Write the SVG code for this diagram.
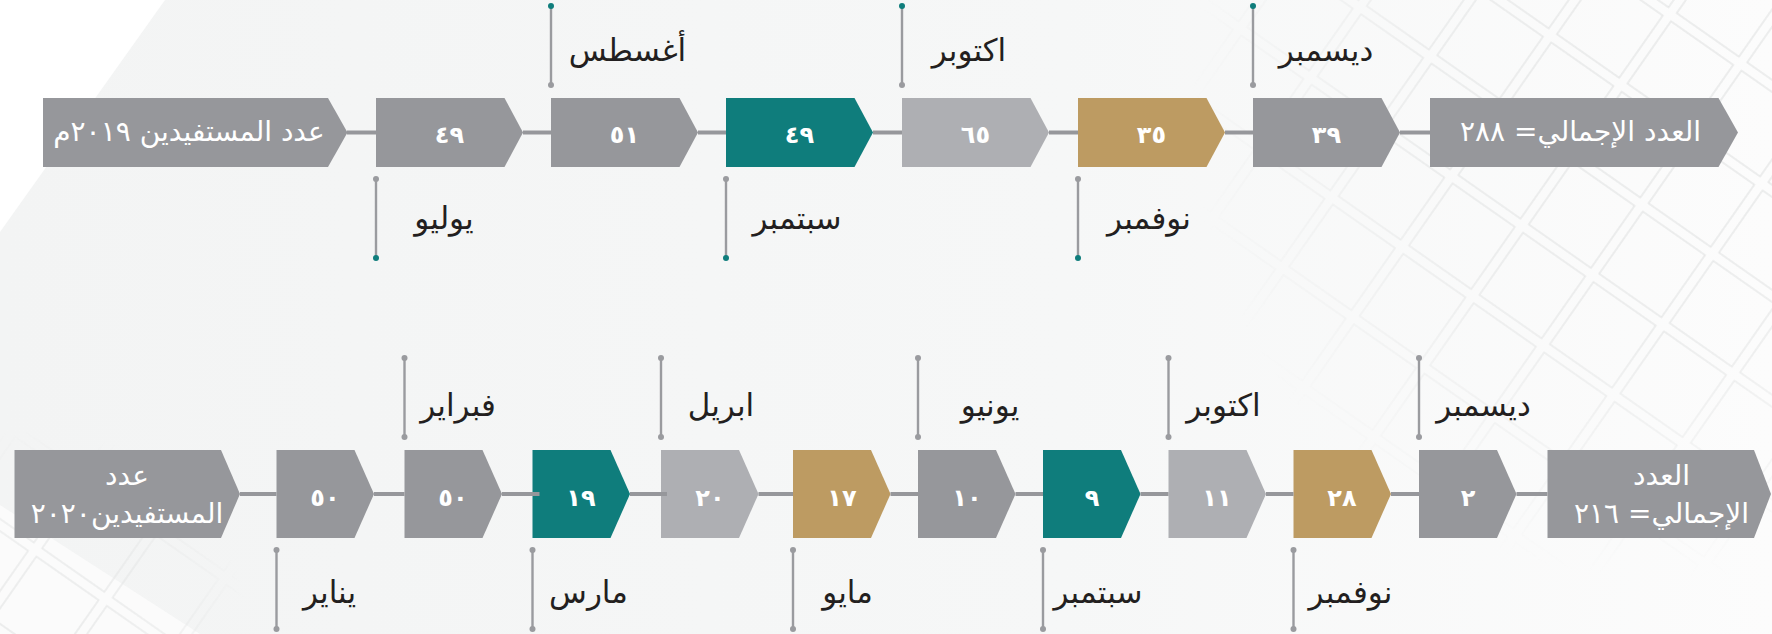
<svg xmlns="http://www.w3.org/2000/svg" width="1772" height="634" viewBox="0 0 1772 634">
<style>
.dk{fill:#96979b}.lt{fill:#aeafb3}.tl{fill:#0f7d7c}.gd{fill:#bd9b62}
.num{font-family:'DejaVu Sans',sans-serif;font-weight:bold;font-size:24px;fill:#fff;text-anchor:middle;direction:rtl}
.ttl{font-family:'DejaVu Sans',sans-serif;font-size:28px;fill:#fff;text-anchor:middle;direction:rtl}
.lbl{font-family:'DejaVu Sans',sans-serif;font-size:31px;fill:#231f20;text-anchor:middle;direction:rtl}
.lead{stroke:#9a9b9f;stroke-width:2.4}
.dg{fill:#9a9b9f}.dt{fill:#0f7d7c}
.con line{stroke:#96979b;stroke-width:4}
</style>
<defs>
<linearGradient id="bgg" x1="0" y1="0" x2="1" y2="0">
<stop offset="0" stop-color="#f3f4f4"/><stop offset="0.6" stop-color="#f6f7f7"/><stop offset="1" stop-color="#fcfcfc"/>
</linearGradient>
<pattern id="grid" width="86" height="86" patternUnits="userSpaceOnUse" patternTransform="rotate(35)">
<rect x="5" y="5" width="76" height="76" fill="none" stroke="#e2e3e3" stroke-width="1.3"/>
</pattern>
<radialGradient id="mg1" cx="1660" cy="110" r="470" gradientUnits="userSpaceOnUse">
<stop offset="0" stop-color="#fff"/><stop offset="0.5" stop-color="#fff" stop-opacity="0.85"/><stop offset="1" stop-color="#fff" stop-opacity="0"/>
</radialGradient>
<radialGradient id="mg2" cx="40" cy="640" r="210" gradientUnits="userSpaceOnUse">
<stop offset="0" stop-color="#fff"/><stop offset="0.6" stop-color="#fff" stop-opacity="0.7"/><stop offset="1" stop-color="#fff" stop-opacity="0"/>
</radialGradient>
<mask id="gm" maskUnits="userSpaceOnUse" x="0" y="0" width="1772" height="634">
<rect x="0" y="0" width="1772" height="634" fill="url(#mg1)"/>
<rect x="0" y="0" width="1772" height="634" fill="url(#mg2)"/>
</mask>
</defs>

<g id="background">
<rect x="0" y="0" width="1772" height="634" fill="url(#bgg)"/>
<polygon points="0,0 165,0 0,232" fill="#ffffff"/>
<polygon points="0,505 200,634 0,634" fill="#fbfbfb"/>
<rect x="0" y="0" width="1772" height="634" fill="url(#grid)" mask="url(#gm)"/>
</g>

<!-- Row 1 (2019) -->
<g id="title2019">
<polygon class="dk" points="43,98 328,98 347.5,132.5 328,167 43,167"/>
<text class="ttl" x="189" y="141">عدد المستفيدين ٢٠١٩م</text>
</g>
<g id="jul2019">
<polygon class="dk" points="376,98 504.5,98 523,132.5 504.5,167 376,167"/>
<text class="num" x="449.5" y="142.5">٤٩</text>
<line class="lead" x1="376" y1="179" x2="376" y2="258"/>
<circle class="dg" cx="376" cy="179" r="3"/><circle class="dt" cx="376" cy="258" r="3"/>
<text class="lbl" x="444" y="229">يوليو</text>
</g>
<g id="aug2019">
<polygon class="dk" points="551,98 679.5,98 698,132.5 679.5,167 551,167"/>
<text class="num" x="624.5" y="142.5">٥١</text>
<line class="lead" x1="551" y1="6" x2="551" y2="85"/>
<circle class="dt" cx="551" cy="6" r="3"/><circle class="dg" cx="551" cy="85" r="3"/>
<text class="lbl" x="627.5" y="61">أغسطس</text>
</g>
<g id="sep2019">
<polygon class="tl" points="726,98 854.5,98 873,132.5 854.5,167 726,167"/>
<text class="num" x="799.5" y="142.5">٤٩</text>
<line class="lead" x1="726" y1="179" x2="726" y2="258"/>
<circle class="dg" cx="726" cy="179" r="3"/><circle class="dt" cx="726" cy="258" r="3"/>
<text class="lbl" x="797" y="229">سبتمبر</text>
</g>
<g id="oct2019">
<polygon class="lt" points="902,98 1030.5,98 1049,132.5 1030.5,167 902,167"/>
<text class="num" x="975.5" y="142.5">٦٥</text>
<line class="lead" x1="902" y1="6" x2="902" y2="85"/>
<circle class="dt" cx="902" cy="6" r="3"/><circle class="dg" cx="902" cy="85" r="3"/>
<text class="lbl" x="969" y="61">اكتوبر</text>
</g>
<g id="nov2019">
<polygon class="gd" points="1078,98 1206.5,98 1225,132.5 1206.5,167 1078,167"/>
<text class="num" x="1151.5" y="142.5">٣٥</text>
<line class="lead" x1="1078" y1="179" x2="1078" y2="258"/>
<circle class="dg" cx="1078" cy="179" r="3"/><circle class="dt" cx="1078" cy="258" r="3"/>
<text class="lbl" x="1149" y="229">نوفمبر</text>
</g>
<g id="dec2019">
<polygon class="dk" points="1253,98 1381.5,98 1400,132.5 1381.5,167 1253,167"/>
<text class="num" x="1326.5" y="142.5">٣٩</text>
<line class="lead" x1="1253" y1="6" x2="1253" y2="85"/>
<circle class="dt" cx="1253" cy="6" r="3"/><circle class="dg" cx="1253" cy="85" r="3"/>
<text class="lbl" x="1326" y="61">ديسمبر</text>
</g>
<g id="total2019">
<polygon class="dk" points="1430,98 1718.5,98 1738,132.5 1718.5,167 1430,167"/>
<text class="ttl" x="1580.5" y="141">العدد الإجمالي= ٢٨٨</text>
</g>

<!-- Row 2 (2020) -->
<g id="title2020">
<polygon class="dk" points="14.5,450 221,450 240,494 221,538 14.5,538"/>
<text class="ttl" x="127" y="485">عدد</text>
<text class="ttl" x="127" y="523">المستفيدين٢٠٢٠</text>
</g>
<g id="jan2020">
<polygon class="dk" points="276.5,450 354.5,450 374,494 354.5,538 276.5,538"/>
<text class="num" x="325" y="506">٥٠</text>
<line class="lead" x1="276.5" y1="550" x2="276.5" y2="629"/>
<circle class="dg" cx="276.5" cy="550" r="3"/><circle class="dg" cx="276.5" cy="629" r="3"/>
<text class="lbl" x="329.5" y="603">يناير</text>
</g>
<g id="feb2020">
<polygon class="dk" points="404.5,450 482.5,450 502,494 482.5,538 404.5,538"/>
<text class="num" x="453" y="506">٥٠</text>
<line class="lead" x1="404.5" y1="358" x2="404.5" y2="437"/>
<circle class="dg" cx="404.5" cy="358" r="3"/><circle class="dg" cx="404.5" cy="437" r="3"/>
<text class="lbl" x="458" y="416">فبراير</text>
</g>
<g id="mar2020">
<polygon class="tl" points="532.5,450 610.5,450 630,494 610.5,538 532.5,538"/>
<text class="num" x="581" y="506">١٩</text>
<line class="lead" x1="532.5" y1="550" x2="532.5" y2="629"/>
<circle class="dg" cx="532.5" cy="550" r="3"/><circle class="dg" cx="532.5" cy="629" r="3"/>
<text class="lbl" x="588.5" y="603">مارس</text>
</g>
<g id="apr2020">
<polygon class="lt" points="661,450 739,450 758.5,494 739,538 661,538"/>
<text class="num" x="710" y="506">٢٠</text>
<line class="lead" x1="661" y1="358" x2="661" y2="437"/>
<circle class="dg" cx="661" cy="358" r="3"/><circle class="dg" cx="661" cy="437" r="3"/>
<text class="lbl" x="721" y="416">ابريل</text>
</g>
<g id="may2020">
<polygon class="gd" points="793,450 871,450 890.5,494 871,538 793,538"/>
<text class="num" x="842" y="506">١٧</text>
<line class="lead" x1="793" y1="550" x2="793" y2="629"/>
<circle class="dg" cx="793" cy="550" r="3"/><circle class="dg" cx="793" cy="629" r="3"/>
<text class="lbl" x="847.5" y="603">مايو</text>
</g>
<g id="jun2020">
<polygon class="dk" points="918,450 996,450 1015.5,494 996,538 918,538"/>
<text class="num" x="967" y="506">١٠</text>
<line class="lead" x1="918" y1="358" x2="918" y2="437"/>
<circle class="dg" cx="918" cy="358" r="3"/><circle class="dg" cx="918" cy="437" r="3"/>
<text class="lbl" x="990" y="416">يونيو</text>
</g>
<g id="sep2020">
<polygon class="tl" points="1043,450 1121,450 1140.5,494 1121,538 1043,538"/>
<text class="num" x="1092" y="506">٩</text>
<line class="lead" x1="1043" y1="550" x2="1043" y2="629"/>
<circle class="dg" cx="1043" cy="550" r="3"/><circle class="dg" cx="1043" cy="629" r="3"/>
<text class="lbl" x="1098" y="603">سبتمبر</text>
</g>
<g id="oct2020">
<polygon class="lt" points="1168.5,450 1246.5,450 1266,494 1246.5,538 1168.5,538"/>
<text class="num" x="1217" y="506">١١</text>
<line class="lead" x1="1168.5" y1="358" x2="1168.5" y2="437"/>
<circle class="dg" cx="1168.5" cy="358" r="3"/><circle class="dg" cx="1168.5" cy="437" r="3"/>
<text class="lbl" x="1223.5" y="416">اكتوبر</text>
</g>
<g id="nov2020">
<polygon class="gd" points="1293.5,450 1371.5,450 1391,494 1371.5,538 1293.5,538"/>
<text class="num" x="1342" y="506">٢٨</text>
<line class="lead" x1="1293.5" y1="550" x2="1293.5" y2="629"/>
<circle class="dg" cx="1293.5" cy="550" r="3"/><circle class="dg" cx="1293.5" cy="629" r="3"/>
<text class="lbl" x="1350.5" y="603">نوفمبر</text>
</g>
<g id="dec2020">
<polygon class="dk" points="1419,450 1497,450 1516.5,494 1497,538 1419,538"/>
<text class="num" x="1468" y="506">٢</text>
<line class="lead" x1="1419" y1="358" x2="1419" y2="437"/>
<circle class="dg" cx="1419" cy="358" r="3"/><circle class="dg" cx="1419" cy="437" r="3"/>
<text class="lbl" x="1483.5" y="416">ديسمبر</text>
</g>
<g id="total2020">
<polygon class="dk" points="1547.5,450 1754,450 1771,494 1754,538 1547.5,538"/>
<text class="ttl" x="1661.5" y="485">العدد</text>
<text class="ttl" x="1661.5" y="523">الإجمالي= ٢١٦</text>
</g>

<g id="connectors" class="con">
<line x1="347" y1="132.5" x2="376" y2="132.5"/>
<line x1="523" y1="132.5" x2="551" y2="132.5"/>
<line x1="698" y1="132.5" x2="726" y2="132.5"/>
<line x1="873" y1="132.5" x2="902" y2="132.5"/>
<line x1="1049" y1="132.5" x2="1078" y2="132.5"/>
<line x1="1225" y1="132.5" x2="1253" y2="132.5"/>
<line x1="1400" y1="132.5" x2="1430" y2="132.5"/>
<line x1="240" y1="494" x2="276.5" y2="494"/>
<line x1="374" y1="494" x2="404.5" y2="494"/>
<line x1="502" y1="494" x2="539.5" y2="494"/>
<line x1="630" y1="494" x2="667" y2="494"/>
<line x1="758.5" y1="494" x2="793" y2="494"/>
<line x1="890.5" y1="494" x2="918" y2="494"/>
<line x1="1015.5" y1="494" x2="1043" y2="494"/>
<line x1="1140.5" y1="494" x2="1168.5" y2="494"/>
<line x1="1266" y1="494" x2="1293.5" y2="494"/>
<line x1="1391" y1="494" x2="1419" y2="494"/>
<line x1="1516.5" y1="494" x2="1547.5" y2="494"/>
</g>
</svg>
